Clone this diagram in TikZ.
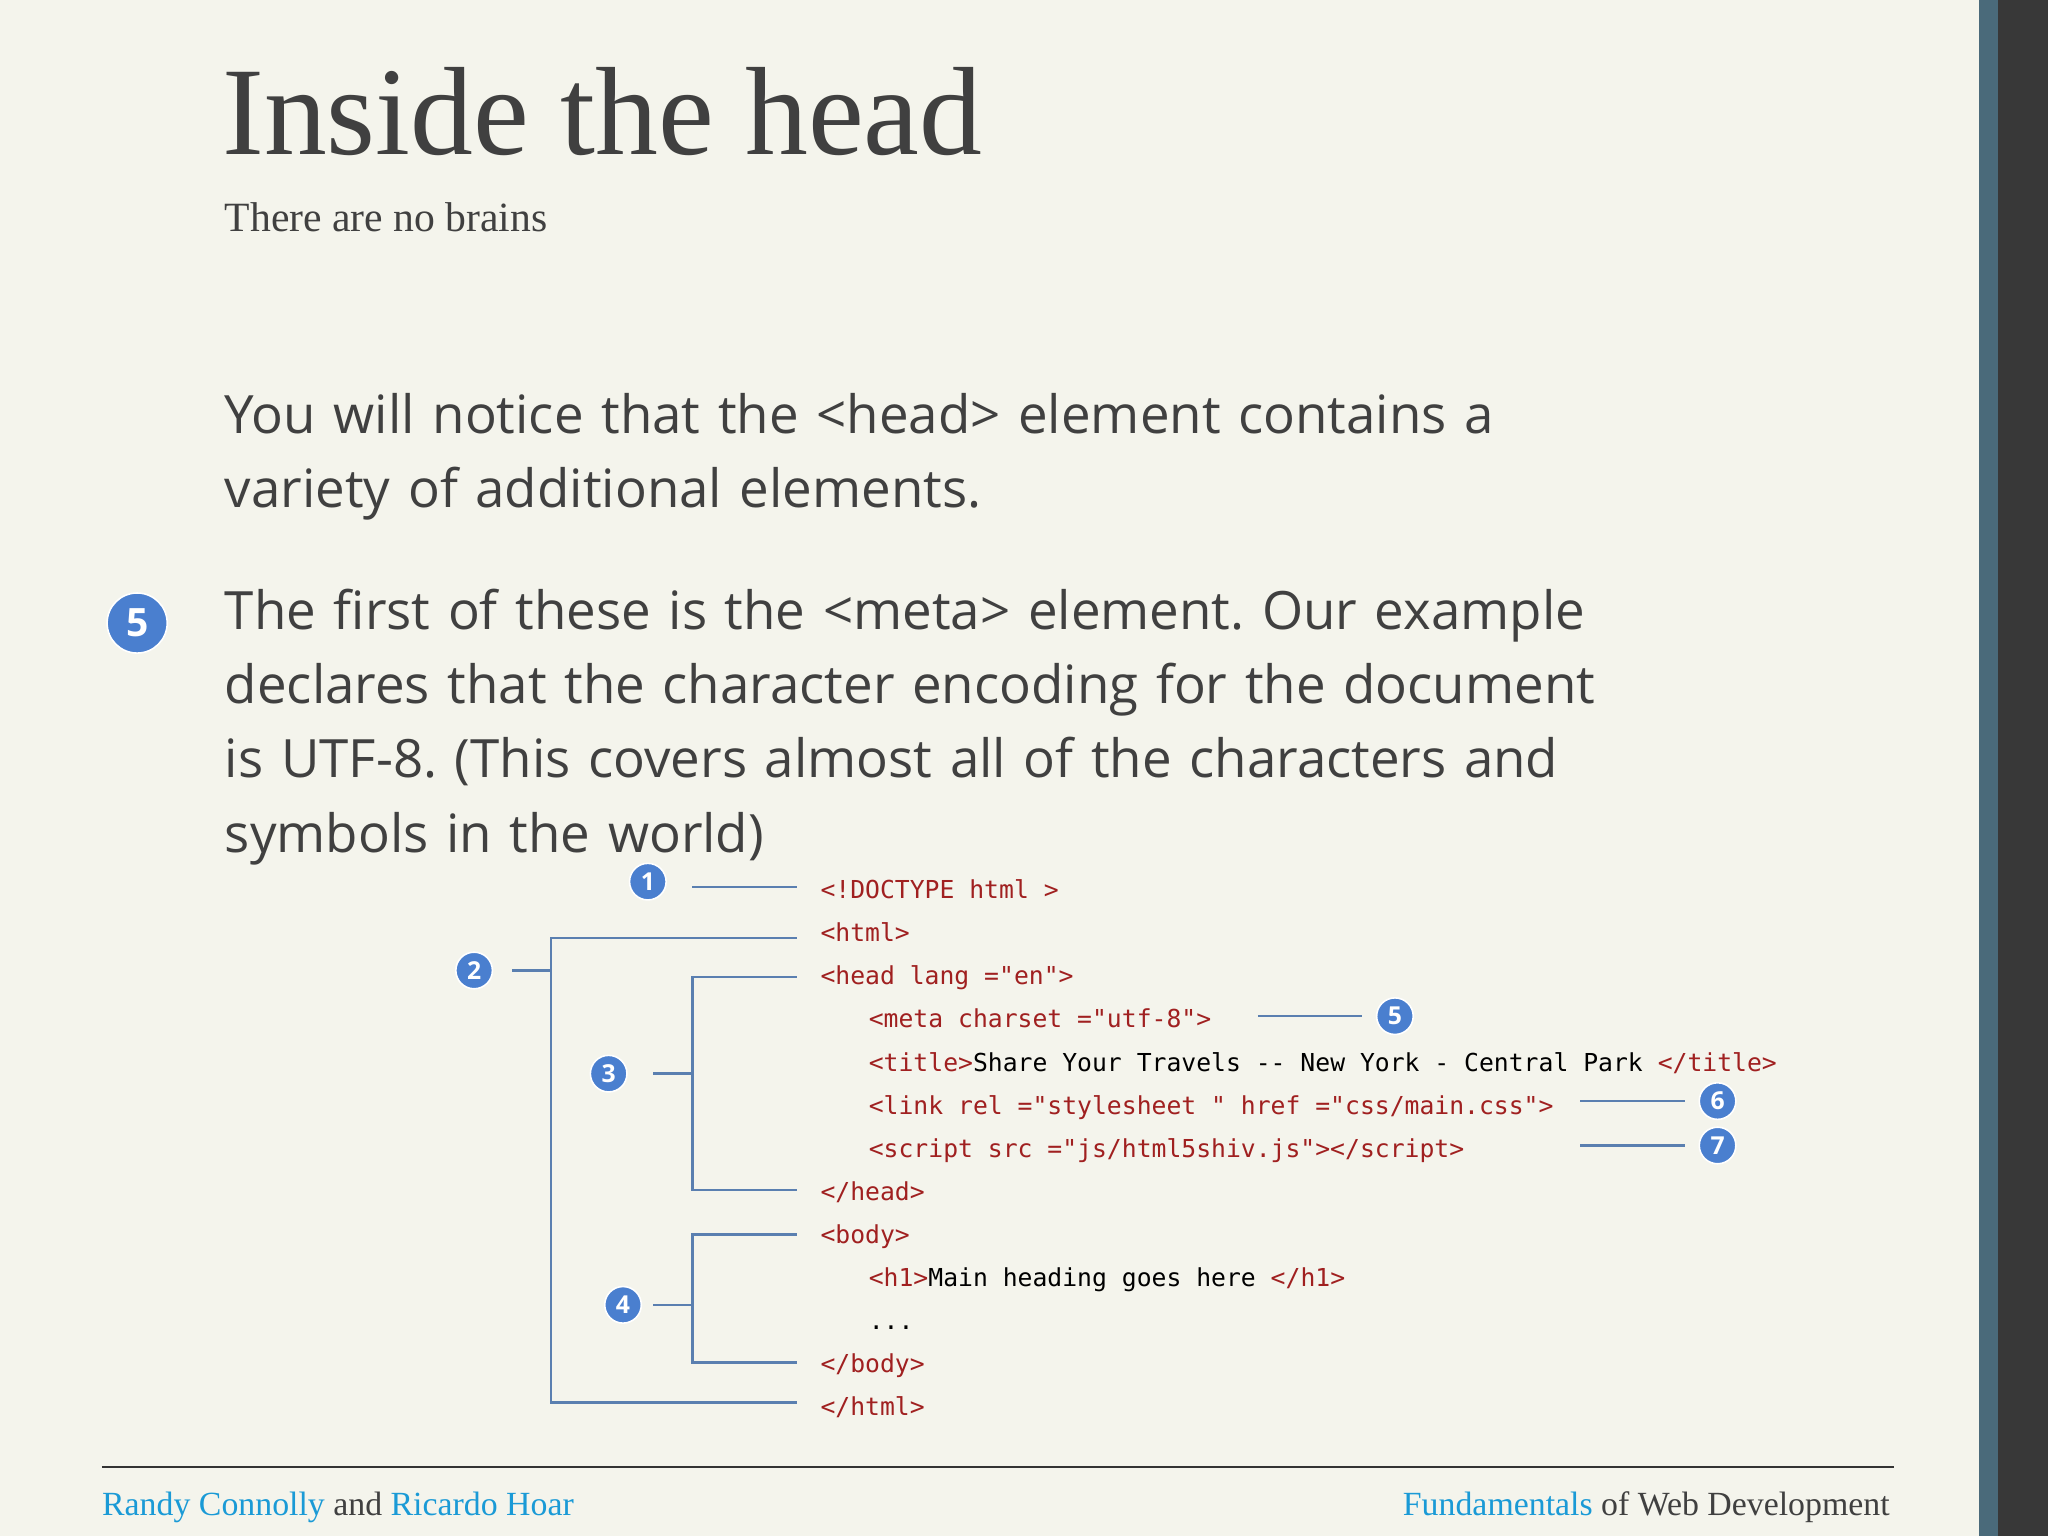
\documentclass[tikz,border=0pt]{standalone}
\usepackage{fontspec}
\setmainfont{Liberation Serif}
\newfontfamily\bodyfont{Open Sans}
\newfontfamily\codefont{DejaVu Sans Mono}
\definecolor{bg}{HTML}{F4F4EC}
\definecolor{txt}{HTML}{404040}
\definecolor{tagc}{HTML}{A02020}
\definecolor{blu}{HTML}{4A7FCF}
\definecolor{brk}{HTML}{5A7FB0}
\definecolor{foot}{HTML}{1A9AD6}
\definecolor{stripe}{HTML}{4A6A7A}
\frenchspacing
\begin{document}
\begin{tikzpicture}[x=1bp,y=-1bp,
  num/.style={circle,fill=blu,draw=white,line width=1.2bp,text=white,inner sep=0pt,minimum size=28bp,font=\bodyfont\bfseries\fontsize{19}{19}\selectfont},
  code/.style={anchor=base west,inner sep=0pt,text=tagc,font=\codefont\fontsize{19}{20}\selectfont},
  body/.style={anchor=base west,inner sep=0pt,text=txt,font=\bodyfont\fontsize{40.6}{57}\selectfont,align=left},
  br/.style={draw=brk,line width=2bp}]
\fill[bg] (0,0) rectangle (1568,1176);
\fill[stripe] (1515,0) rectangle (1530,1176);
\fill[black!78] (1530,0) rectangle (1568,1176);
\node[anchor=base west,inner sep=0pt,text=txt,font=\fontsize{96.5}{98}\selectfont] (title) at (170,118) {Inside the head};
\node[anchor=base west,inner sep=0pt,text=txt,font=\fontsize{32}{32}\selectfont] (sub) at (172,177) {There are no brains};
\node[body,text width=1150bp] (p1) at (172,332) {You will notice that the <head> element contains a\\variety of additional elements.};
\node[body,text width=1150bp] (p2) at (172,482) {The first of these is the <meta> element. Our example\\declares that the character encoding for the document\\is UTF-8. (This covers almost all of the characters and\\symbols in the world)};
\node[num,minimum size=46bp,font=\bodyfont\bfseries\fontsize{30}{30}\selectfont] (n5big) at (105,477) {5};
% code
\node[code] (c1) at (628,688) {<!DOCTYPE html >};
\node[code] (c2) at (628,721) {<html>};
\node[code] (c3) at (628,754) {<head lang ="en">};
\node[code] (c4) at (665,787) {<meta charset ="utf-8">};
\node[code] (c5) at (665,820) {<title>\textcolor{black}{Share Your Travels -- New York - Central Park }</title>};
\node[code] (c6) at (665,853) {<link rel ="stylesheet " href ="css/main.css">};
\node[code] (c7) at (665,886) {<script src ="js/html5shiv.js"></script>};
\node[code] (c8) at (628,919) {</head>};
\node[code] (c9) at (628,952) {<body>};
\node[code] (c10) at (665,985) {<h1>\textcolor{black}{Main heading goes here }</h1>};
\node[code,text=black] (c11) at (665,1018) {...};
\node[code] (c12) at (628,1051) {</body>};
\node[code] (c13) at (628,1084) {</html>};
% numbers
\node[num] (n1) at (496,675) {1};
\node[num] (n2) at (363,743) {2};
\node[num] (n3) at (466,822) {3};
\node[num] (n4) at (477,999) {4};
\node[num] (n5) at (1068,778) {5};
\node[num] (n6) at (1315,843) {6};
\node[num] (n7) at (1315,877) {7};
% brackets
\coordinate (a1) at (530,679); \coordinate (b1) at (610,679);
\draw[br] (a1) -- (b1);
\draw[br] (610,718) -- (422,718) -- (422,1074) -- (610,1074);
\draw[br] (392,743) -- (422,743);
\draw[br] (610,748) -- (530,748) -- (530,911) -- (610,911);
\draw[br] (500,822) -- (530,822);
\draw[br] (610,945) -- (530,945) -- (530,1043) -- (610,1043);
\draw[br] (500,999) -- (530,999);
\draw[br] (963,778) -- (1043,778);
\draw[br] (1210,843) -- (1290,843);
\draw[br] (1210,877) -- (1290,877);
% footer
\draw[black!80,line width=1.2bp] (78,1123) -- (1450,1123);
\node[anchor=base west,inner sep=0pt,font=\fontsize{26}{26}\selectfont,text=txt] (fl) at (78,1160) {\textcolor{foot}{Randy Connolly} and \textcolor{foot}{Ricardo Hoar}};
\node[anchor=base east,inner sep=0pt,font=\fontsize{26}{26}\selectfont,text=txt] (fr) at (1447,1160) {\textcolor{foot}{Fundamentals} of Web Development};
\end{tikzpicture}
\end{document}
